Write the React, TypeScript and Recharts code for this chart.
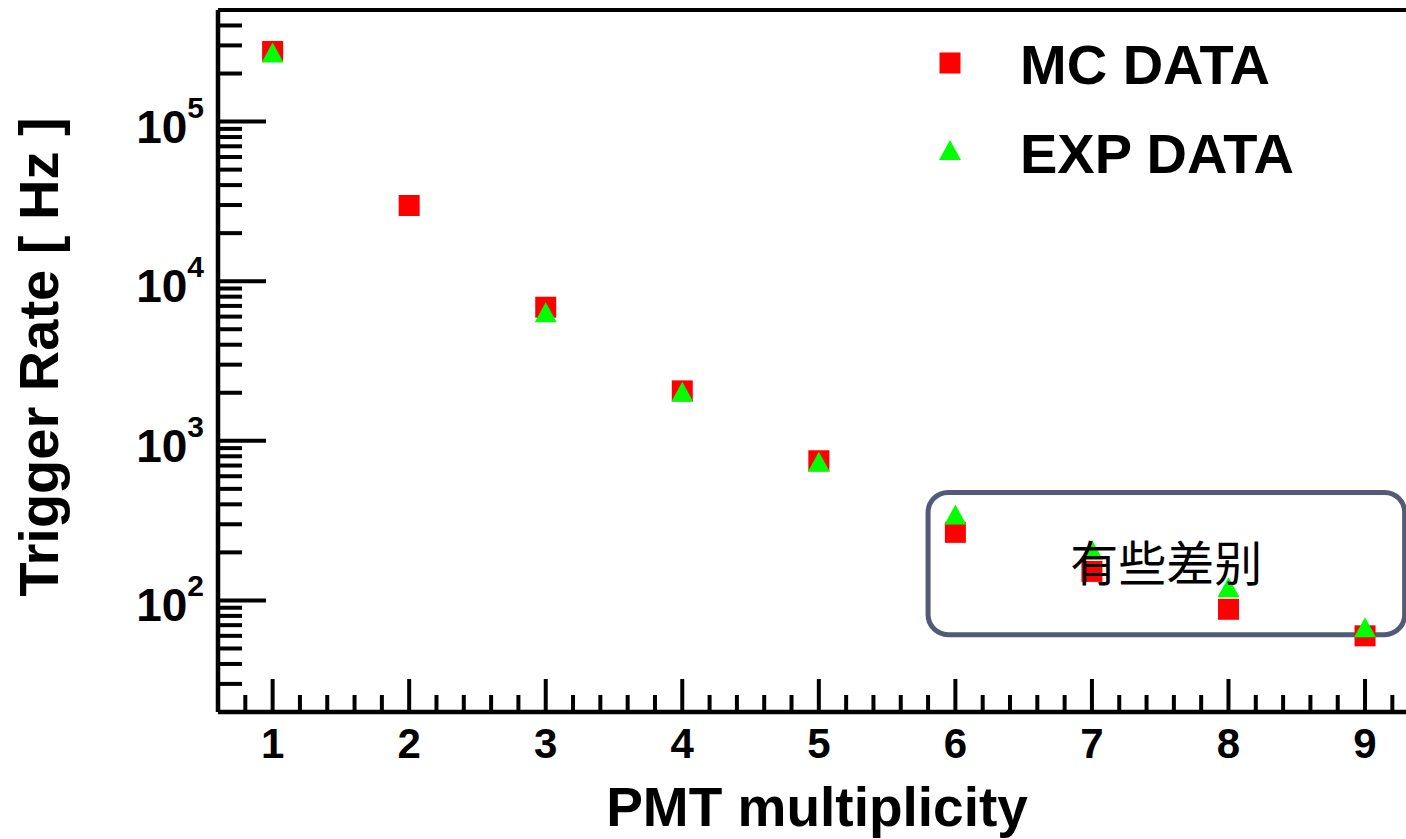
import { ScatterChart, Scatter, XAxis, YAxis, Legend, ReferenceArea, ReferenceLine } from 'recharts';

// PMT multiplicity vs trigger rate, MC vs experiment
const multiplicity = [1, 2, 3, 4, 5, 6, 7, 8, 9];
const mcRate = [275000, 29800, 6870, 2055, 750, 267, 152, 88, 60];
const expRate: (number | null)[] = [267000, null, 6300, 2000, 730, 340, 205, 119, 67];
const seriesNames = ['MC DATA', 'EXP DATA'];

const xMajorTicks = [1, 2, 3, 4, 5, 6, 7, 8, 9];
const xMinorTicks = [
  0.8, 1.2, 1.4, 1.6, 1.8, 2.2, 2.4, 2.6, 2.8, 3.2, 3.4, 3.6, 3.8, 4.2, 4.4, 4.6, 4.8,
  5.2, 5.4, 5.6, 5.8, 6.2, 6.4, 6.6, 6.8, 7.2, 7.4, 7.6, 7.8, 8.2, 8.4, 8.6, 8.8, 9.2,
];
const yMajorTicks = [100, 1000, 10000, 100000];
const yMajorExp = ['2', '3', '4', '5'];
const yMinorTicks = [
  30, 40, 50, 60, 70, 80, 90,
  200, 300, 400, 500, 600, 700, 800, 900,
  2000, 3000, 4000, 5000, 6000, 7000, 8000, 9000,
  20000, 30000, 40000, 50000, 60000, 70000, 80000, 90000,
  200000, 300000, 400000,
];

const FONT = '"Liberation Sans", Arial, sans-serif';
const CJK = '"Noto Sans CJK SC", sans-serif';

const mcData = multiplicity.map((m, i) => ({ x: m, y: mcRate[i] }));
const expData = multiplicity
  .map((m, i) => ({ x: m, y: expRate[i] }))
  .filter((d) => d.y !== null);

const SquareShape = (props: any) => {
  const { cx, cy } = props;
  return <rect x={cx - 10.5} y={cy - 10.5} width={21} height={21} fill="#ff0000" />;
};

const TriangleShape = (props: any) => {
  const { cx, cy } = props;
  return <polygon points={`${cx},${cy - 11} ${cx - 11},${cy + 9} ${cx + 11},${cy + 9}`} fill="#00ff00" />;
};

const XTick = (props: any) => {
  const { x, y, payload } = props;
  const major = xMajorTicks.includes(payload.value);
  return (
    <g>
      <line x1={x} x2={x} y1={y} y2={y - (major ? 33 : 17)} stroke="#000" strokeWidth={4} />
      {major && (
        <text x={x} y={y + 46} textAnchor="middle" fontSize={42} fontWeight="bold" fontFamily={FONT} fill="#000">
          {payload.value}
        </text>
      )}
    </g>
  );
};

const YTick = (props: any) => {
  const { x, y, payload } = props;
  const idx = yMajorTicks.indexOf(payload.value);
  const major = idx >= 0;
  return (
    <g>
      <line x1={x} x2={x + (major ? 48 : 24)} y1={y} y2={y} stroke="#000" strokeWidth={4} />
      {major && (
        <text x={x - 14} y={y + 21} textAnchor="end" fontWeight="bold" fontFamily={FONT} fill="#000">
          <tspan fontSize={46}>10</tspan>
          <tspan fontSize={30} dy={-25}>{yMajorExp[idx]}</tspan>
        </text>
      )}
    </g>
  );
};

const LegendBox = (props: any) => {
  const items = [...(props.payload || [])].sort(
    (a: any, b: any) => seriesNames.indexOf(a.value) - seriesNames.indexOf(b.value)
  );
  return (
    <svg width={440} height={170}>
      {items.map((it: any, i: number) => {
        const cy = i === 0 ? 33 : 121;
        const base = i === 0 ? 54 : 143;
        const isMc = it.value === seriesNames[0];
        return (
          <g key={it.value}>
            {isMc ? (
              <rect x={19.5} y={cy - 10.5} width={21} height={21} fill="#ff0000" />
            ) : (
              <polygon points={`30,${cy - 11} 19,${cy + 9} 41,${cy + 9}`} fill="#00ff00" />
            )}
            <text x={100} y={base} fontSize={56} fontWeight="bold" fontFamily={FONT} fill="#000">
              {it.value}
            </text>
          </g>
        );
      })}
    </svg>
  );
};

export default function App() {
  return (
    <div style={{ position: 'absolute', left: 0, top: 0, background: '#fff' }}>
      <ScatterChart width={1406} height={839} margin={{ top: 10, right: 0, left: 18, bottom: 27 }}>
        <XAxis
          type="number"
          dataKey="x"
          domain={[0.6, 9.3]}
          allowDataOverflow
          ticks={[...xMinorTicks, ...xMajorTicks].sort((a, b) => a - b)}
          interval={0}
          tickSize={0}
          tickMargin={0}
          tickLine={false}
          tick={<XTick />}
          axisLine={{ stroke: '#000', strokeWidth: 4.5 }}
          height={100}
          label={{
            content: (p: any) => {
              const vb = p.viewBox;
              return (
                <text x={vb.x + vb.width / 2 + 5} y={vb.y + 114} textAnchor="middle" fontSize={55} fontWeight="bold" fontFamily={FONT} fill="#000">
                  PMT multiplicity
                </text>
              );
            },
          }}
        />
        <YAxis
          type="number"
          dataKey="y"
          scale="log"
          domain={[20, 500000]}
          allowDataOverflow
          ticks={[...yMinorTicks, ...yMajorTicks].sort((a, b) => a - b)}
          interval={0}
          tickSize={0}
          tickMargin={0}
          tickLine={false}
          tick={<YTick />}
          axisLine={{ stroke: '#000', strokeWidth: 4.5 }}
          width={200}
          label={{
            content: (p: any) => {
              const vb = p.viewBox;
              return (
                <text transform={`translate(${vb.x + 40}, 357) rotate(-90)`} textAnchor="middle" fontSize={56} fontWeight="bold" fontFamily={FONT} fill="#000">
                  Trigger Rate [ Hz ]
                </text>
              );
            },
          }}
        />
        <ReferenceLine y={500000} stroke="#000" strokeWidth={4} ifOverflow="visible" />
        <ReferenceArea
          x1={5.8}
          x2={9.29}
          y1={61}
          y2={475}
          fill="none"
          fillOpacity={0}
          stroke="#525a78"
          strokeWidth={5}
          radius={20}
          ifOverflow="visible"
          label={{ value: '有些差别', position: 'center', fill: '#000', fontSize: 48, fontFamily: CJK }}
        />
        <Legend
          layout="vertical"
          align="center"
          verticalAlign="middle"
          wrapperStyle={{ left: 920, top: 30, width: 440 }}
          content={<LegendBox />}
        />
        <Scatter name={seriesNames[0]} data={mcData} fill="#ff0000" shape={<SquareShape />} isAnimationActive={false} />
        <Scatter name={seriesNames[1]} data={expData} fill="#00ff00" shape={<TriangleShape />} isAnimationActive={false} />
      </ScatterChart>
    </div>
  );
}
